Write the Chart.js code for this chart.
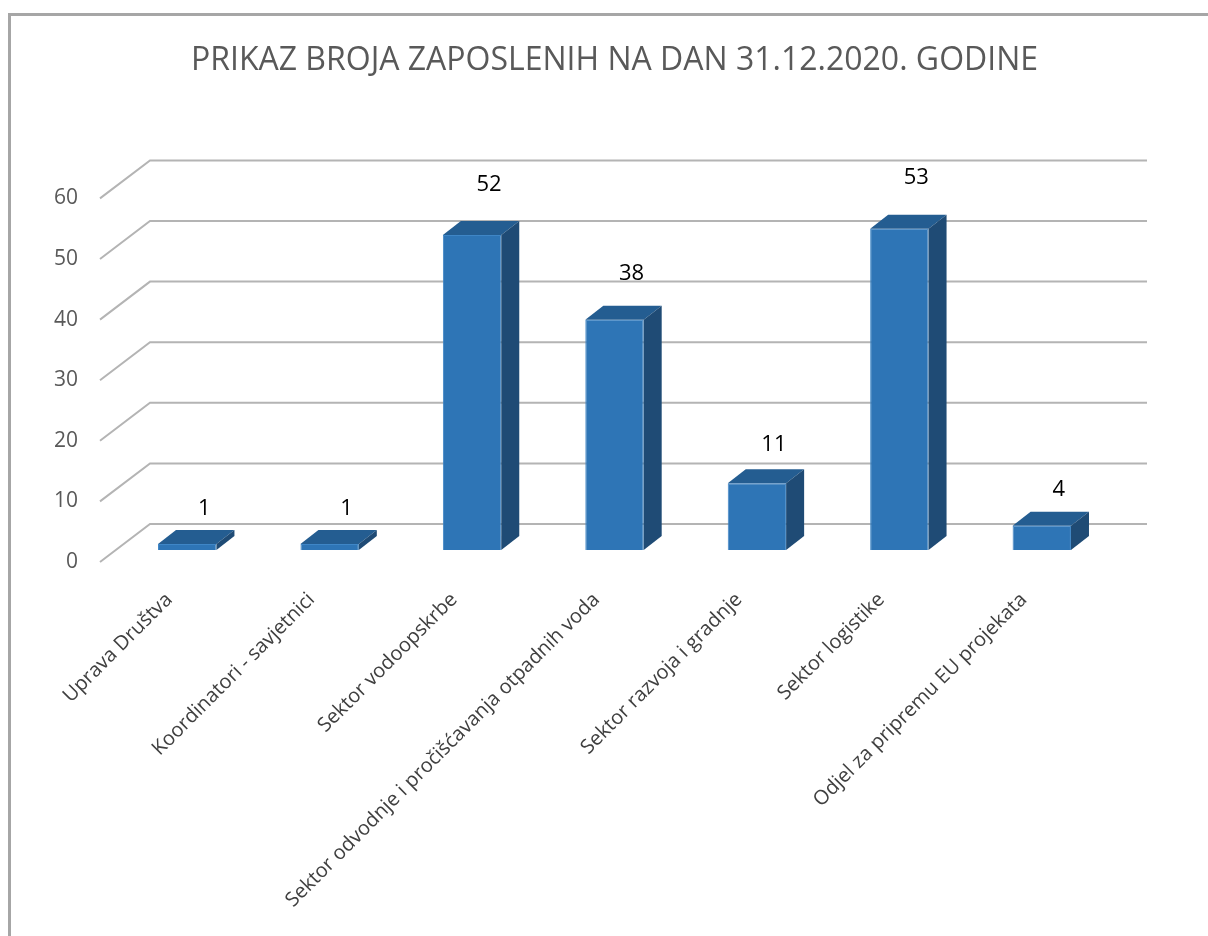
<!DOCTYPE html>
<html>
<head>
<meta charset="utf-8">
<script src="https://cdn.jsdelivr.net/npm/chart.js@4.4.0/dist/chart.umd.min.js"></script>
<style>
  html, body { margin: 0; padding: 0; background: #fff; }
</style>
</head>
<body>
<canvas id="chart" width="1208" height="936"></canvas>
<script>
const categories = [
  "Uprava Društva",
  "Koordinatori - savjetnici",
  "Sektor vodoopskrbe",
  "Sektor odvodnje i pročišćavanja otpadnih voda",
  "Sektor razvoja i gradnje",
  "Sektor logistike",
  "Odjel za pripremu EU projekata"
];
const employees = [1, 1, 52, 38, 11, 53, 4];
const yTicks = [0, 10, 20, 30, 40, 50, 60];
const chartTitle = "PRIKAZ BROJA ZAPOSLENIH NA DAN 31.12.2020. GODINE";

// fake 3d offsets (px)
const DEPTH = { x: 18, y: -14 };     // bar depth
const FLOOR_FRONT = { x: -16, y: 12 };
const BACK_WALL = { x: 34, y: -26 };

const fake3d = {
  id: "fake3d",
  beforeDatasetsDraw(chart) {
    const { ctx, chartArea, scales } = chart;
    ctx.save();
    ctx.strokeStyle = "#b4b4b4";
    ctx.lineWidth = 2;
    yTicks.forEach(v => {
      const p = scales.y.getPixelForValue(v);
      ctx.beginPath();
      ctx.moveTo(chartArea.left + FLOOR_FRONT.x, p + FLOOR_FRONT.y);
      ctx.lineTo(chartArea.left + BACK_WALL.x, p + BACK_WALL.y);
      ctx.lineTo(chartArea.right + BACK_WALL.x, p + BACK_WALL.y);
      ctx.stroke();
    });
    ctx.restore();
  },
  afterDatasetsDraw(chart) {
    const { ctx } = chart;
    const meta = chart.getDatasetMeta(0);
    ctx.save();
    meta.data.forEach((bar, i) => {
      const { x, y, base, width } = bar.getProps(["x", "y", "base", "width"], true);
      const x0 = x - width / 2;
      const x1 = x + width / 2;
      // top
      ctx.fillStyle = "#245d91";
      ctx.beginPath();
      ctx.moveTo(x0, y);
      ctx.lineTo(x1, y);
      ctx.lineTo(x1 + DEPTH.x, y + DEPTH.y);
      ctx.lineTo(x0 + DEPTH.x, y + DEPTH.y);
      ctx.closePath();
      ctx.fill();
      // side
      ctx.fillStyle = "#1f4b75";
      ctx.beginPath();
      ctx.moveTo(x1, y);
      ctx.lineTo(x1 + DEPTH.x, y + DEPTH.y);
      ctx.lineTo(x1 + DEPTH.x, base + DEPTH.y);
      ctx.lineTo(x1, base);
      ctx.closePath();
      ctx.fill();
      // value
      const v = employees[i];
      ctx.fillStyle = "#000";
      ctx.font = "22px 'Open Sans'";
      ctx.textAlign = "center";
      ctx.textBaseline = "middle";
      ctx.fillText(String(v), x + 17, y - (35 + 0.3 * v));
    });
    ctx.restore();
  },
  afterDraw(chart) {
    const { ctx } = chart;
    ctx.save();
    ctx.fillStyle = "#a6a6a6";
    ctx.fillRect(8, 13, 1200, 3);
    ctx.fillRect(8, 13, 3, 923);
    ctx.restore();
  }
};

new Chart(document.getElementById("chart"), {
  type: "bar",
  plugins: [fake3d],
  data: {
    labels: categories,
    datasets: [{
      data: employees,
      backgroundColor: "#2e75b6",
      borderColor: "#3f86c6",
      borderWidth: 1,
      barPercentage: 0.41,
      categoryPercentage: 1.0
    }]
  },
  options: {
    responsive: false,
    animation: false,
    layout: { padding: { top: 8, left: 10, right: 95, bottom: 0 } },
    plugins: {
      legend: { display: false },
      tooltip: { enabled: false },
      title: {
        display: true,
        text: chartTitle,
        fullSize: false,
        color: "#595959",
        font: { family: "'Open Sans'", size: 32, weight: "normal" },
        padding: { top: 34, bottom: 106 }
      }
    },
    scales: {
      x: {
        grid: { display: false, drawTicks: false },
        border: { display: false },
        ticks: {
          autoSkip: false,
          minRotation: 45,
          maxRotation: 45,
          padding: 38,
          labelOffset: -18,
          color: "#404040",
          font: { family: "'Open Sans'", size: 20 }
        },
        afterFit(scale) { scale.height = 386; }
      },
      y: {
        min: 0,
        max: 60,
        grid: { display: false, drawTicks: false },
        border: { display: false },
        ticks: {
          stepSize: 10,
          padding: 38,
          labelOffset: 12,
          color: "#595959",
          font: { family: "'Open Sans'", size: 21 }
        },
        afterFit(scale) { scale.width = 106; }
      }
    }
  }
});
</script>
</body>
</html>
